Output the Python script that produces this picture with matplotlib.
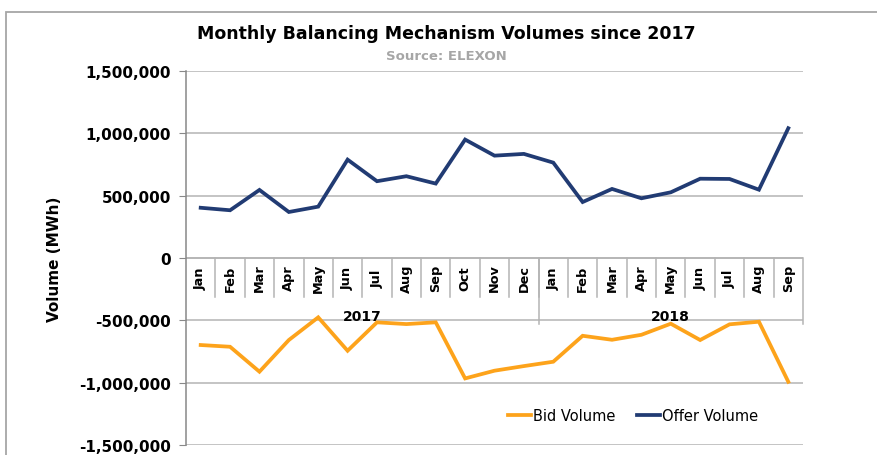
import numpy as np
import matplotlib.pyplot as plt
from matplotlib.patches import Rectangle
from matplotlib.ticker import FuncFormatter

# Donnees (MWh)
months = ["Jan", "Feb", "Mar", "Apr", "May", "Jun", "Jul", "Aug", "Sep", "Oct", "Nov", "Dec",
          "Jan", "Feb", "Mar", "Apr", "May", "Jun", "Jul", "Aug", "Sep"]
years = ["2017", "2018"]
year_counts = [12, 9]
offer_volume = [403000, 383000, 546000, 369000, 412000, 789000, 616000, 656000, 597000, 950000,
                821000, 835000, 765000, 449000, 554000, 479000, 527000, 636000, 634000, 548000,
                1041000]
bid_volume = [-698000, -712000, -912000, -658000, -476000, -744000, -516000, -530000, -516000,
              -966000, -904000, -867000, -832000, -624000, -656000, -616000, -527000, -658000,
              -532000, -511000, -993000]

orange = "#FDA31B"
navy = "#213B73"
grid_col = "#B4B4B4"

fig = plt.figure(figsize=(8.77, 4.56), dpi=100)
W, H = 877, 456
ax = fig.add_axes([186 / W, 1 - 446 / H, (803 - 186) / W, (446 - 72) / H])

# cadre gris de la figure
fig.patches.append(Rectangle((6 / W, -0.1), 1.2, (456 - 13) / H + 0.1, transform=fig.transFigure,
                             fill=False, edgecolor="#A6A6A6", linewidth=1.3))

x = np.arange(len(months))
ax.plot(x, bid_volume, color=orange, lw=2.7, label="Bid Volume", solid_joinstyle="miter", zorder=3)
ax.plot(x, offer_volume, color=navy, lw=2.7, label="Offer Volume", solid_joinstyle="miter", zorder=3)

ax.set_xlim(-0.5, len(months) - 0.5)
ax.set_ylim(-1500000, 1500000)
ax.set_yticks(np.arange(-1500000, 1500001, 500000))
ax.yaxis.set_major_formatter(FuncFormatter(lambda v, p: f"{int(v):,}"))
ax.tick_params(axis="y", length=5, color="#888888", labelsize=11, pad=6)
for lab in ax.get_yticklabels():
    lab.set_fontweight("bold")
ax.set_xticks([])
ax.grid(axis="y", color=grid_col, lw=1.1)
ax.set_axisbelow(True)
for s in ["top", "right", "bottom"]:
    ax.spines[s].set_visible(False)
ax.spines["left"].set_color("#888888")
ax.spines["left"].set_linewidth(1.1)
ax.set_ylabel("Volume (MWh)", fontsize=11, fontweight="bold", labelpad=12)

# axe des categories a zero
ax.axhline(0, color=grid_col, lw=1.1, zorder=1)
month_sep = -313000
year_sep = -530000
for i in range(len(months)):
    ax.text(i, -156000, months[i], rotation=90, ha="center", va="center",
            fontsize=9.3, fontweight="bold")
for i in range(len(months) - 1):
    ax.plot([i + 0.5, i + 0.5], [0, month_sep], color=grid_col, lw=1.1, zorder=1)
start = 0
bounds = [-0.5]
for y, n in zip(years, year_counts):
    ax.text(start + (n - 1) / 2, -465000, y, ha="center", va="center",
            fontsize=10, fontweight="bold", zorder=2)
    start += n
    bounds.append(start - 0.5)
for b in bounds[1:]:
    ax.plot([b, b], [0, year_sep], color=grid_col, lw=1.1, zorder=1, clip_on=False)

fig.text(446 / W, 1 - 34 / H, "Monthly Balancing Mechanism Volumes since 2017",
         ha="center", va="center", fontsize=12.5, fontweight="bold")
fig.text(446 / W, 1 - 57 / H, "Source: ELEXON", ha="center", va="center",
         fontsize=9.5, fontweight="bold", color="#A6A6A6")

ax.legend(loc="center", bbox_to_anchor=(633 / W, 1 - 417 / H), bbox_transform=fig.transFigure,
          ncol=2, frameon=False, fontsize=10.5, handlelength=1.6, handletextpad=0.1,
          columnspacing=1.5)

fig.savefig("out.png", dpi=100)
